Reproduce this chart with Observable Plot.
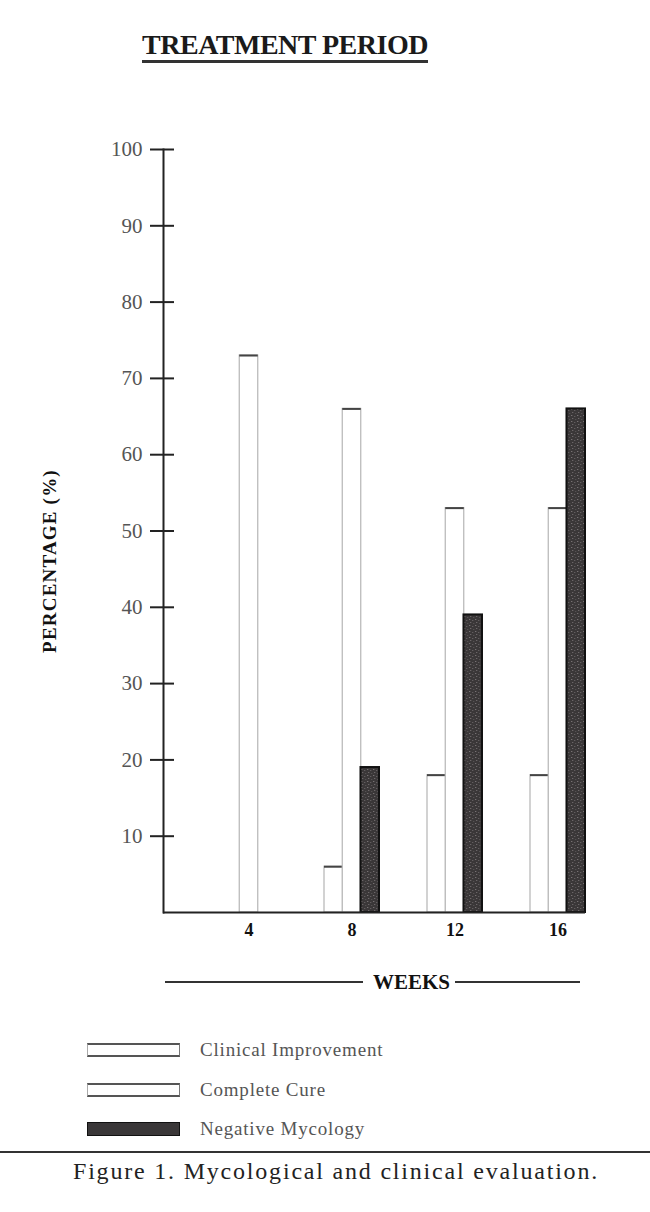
<!DOCTYPE html>
<html><head><meta charset="utf-8">
<script src="https://cdn.jsdelivr.net/npm/d3@7"></script>
<script src="https://cdn.jsdelivr.net/npm/@observablehq/plot@0.6"></script>
<style>
body{margin:0;background:#fff;font-family:"Liberation Serif","DejaVu Serif",serif;}
#page{position:relative;width:650px;height:1212px;overflow:hidden;background:#fff;}
#title{position:absolute;left:0;width:570px;top:30px;text-align:center;font-weight:bold;font-size:28px;line-height:1.1;letter-spacing:-0.5px;color:#1a1a1a;}
#title span{border-bottom:3px solid #333;}
#chart{position:absolute;left:0;top:120px;}
#ylab{position:absolute;left:50px;top:561px;transform:translate(-50%,-50%) rotate(-90deg);white-space:nowrap;font-weight:bold;font-size:19px;letter-spacing:1.2px;color:#111;}
#weeks{position:absolute;left:165px;width:415px;top:970px;height:24px;display:flex;align-items:center;}
#weeks .ln{height:2px;background:#333;}
#weeks .l1{width:198px;}
#weeks .l2{flex:1;}
#weeks .tx{font-weight:bold;font-size:21px;color:#111;padding:0 5px 0 10px;}
.lg{position:absolute;left:87px;width:93px;height:14px;box-sizing:border-box;}
.lgw{background:#fff;border-top:2px solid #555;border-bottom:2px solid #555;border-left:1px solid #aaa;border-right:1.5px solid #777;}
.lgd{background:#3a3738;border:1px solid #111;}
.lt{position:absolute;left:200px;font-size:19px;letter-spacing:0.8px;color:#555;line-height:20px;}
#hr{position:absolute;left:0;width:650px;top:1151px;height:2px;background:#333;}
#cap{position:absolute;left:73px;top:1158px;font-size:24px;letter-spacing:1.8px;color:#222;white-space:nowrap;}
</style></head>
<body>
<div id="page">
  <div id="title"><span>TREATMENT PERIOD</span></div>
  <div id="chart"></div>
  <div id="ylab">PERCENTAGE (%)</div>
  <div id="weeks"><div class="ln l1"></div><div class="tx">WEEKS</div><div class="ln l2"></div></div>
  <div class="lg lgw" style="top:1043px"></div><div class="lt" style="top:1040px">Clinical Improvement</div>
  <div class="lg lgw" style="top:1083px"></div><div class="lt" style="top:1080px">Complete Cure</div>
  <div class="lg lgd" style="top:1122px"></div><div class="lt" style="top:1119px">Negative Mycology</div>
  <div id="hr"></div>
  <div id="cap">Figure 1. Mycological and clinical evaluation.</div>
</div>
<script>
const weeks = [4, 8, 12, 16];
const series = ["Clinical Improvement", "Complete Cure", "Negative Mycology"];
const clinicalImprovement = [0, 6, 18, 18];
const completeCure = [73, 66, 53, 53];
const negativeMycology = [0, 19, 39, 66];
const yTicks = [10, 20, 30, 40, 50, 60, 70, 80, 90, 100];

const values = [clinicalImprovement, completeCure, negativeMycology];
const data = weeks.flatMap((w, i) => series.map((s, k) => ({week: w, series: s, value: values[k][i]})));

const W = 650, H = 832, mL = 163, mR = 65, mT = 29, mB = 40;
const pIn = 0.47, pOut = 0.278;
const bandwidth = d3.scaleBand().domain(weeks).range([mL, W - mR]).paddingInner(pIn).paddingOuter(pOut).align(1).bandwidth();
const barW = bandwidth / 3;
const inset = (bandwidth - barW) / 2;

const bySeries = (s) => data.filter(d => d.series === s);
const whiteBar = (s, dx) => [
  Plot.barY(bySeries(s), {x: "week", y: "value", fill: "#fff", stroke: "#b5b5b5", strokeWidth: 1.2, insetLeft: inset, insetRight: inset, dx}),
  Plot.tickY(bySeries(s).filter(d => d.value > 0), {x: "week", y: "value", stroke: "#444", strokeWidth: 2, insetLeft: inset, insetRight: inset, dx})
];

const svg = Plot.plot({
  width: W, height: H, marginLeft: mL, marginRight: mR, marginTop: mT, marginBottom: mB,
  style: {fontFamily: "'Liberation Serif', 'DejaVu Serif', serif", background: "transparent"},
  x: {type: "band", domain: weeks, paddingInner: pIn, paddingOuter: pOut, align: 1, axis: null},
  y: {domain: [0, 100], axis: null},
  marks: [
    ...whiteBar(series[0], -barW),
    ...whiteBar(series[1], 0),
    Plot.barY(bySeries(series[2]), {x: "week", y: "value", fill: "url(#speck)", stroke: "#111", strokeWidth: 2, insetLeft: inset, insetRight: inset, dx: barW}),
    Plot.ruleY([0], {stroke: "#222", strokeWidth: 2}),
    Plot.frame({anchor: "left", stroke: "#222", strokeWidth: 2}),
    Plot.axisY({ticks: yTicks, tickSize: 24, dx: 11, tickPadding: 8, stroke: "#222", strokeWidth: 2, fontSize: 21, fill: "#555", label: null}),
    Plot.axisX({tickSize: 0, tickPadding: 11, fontSize: 18, fontWeight: "bold", fill: "#111", label: null})
  ]
});

const ns = "http://www.w3.org/2000/svg";
const defs = document.createElementNS(ns, "defs");
defs.innerHTML = `<pattern id="speck" width="6" height="6" patternUnits="userSpaceOnUse">
  <rect width="6" height="6" fill="#3a3738"/>
  <rect x="1" y="1" width="1" height="1" fill="#8a8486"/>
  <rect x="4" y="2" width="1" height="1" fill="#6f6a6c"/>
  <rect x="2" y="4" width="1" height="1" fill="#7c7678"/>
  <rect x="5" y="5" width="1" height="1" fill="#5e5a5b"/>
</pattern>`;
svg.insertBefore(defs, svg.firstChild);
document.getElementById("chart").appendChild(svg);
</script>
</body></html>
